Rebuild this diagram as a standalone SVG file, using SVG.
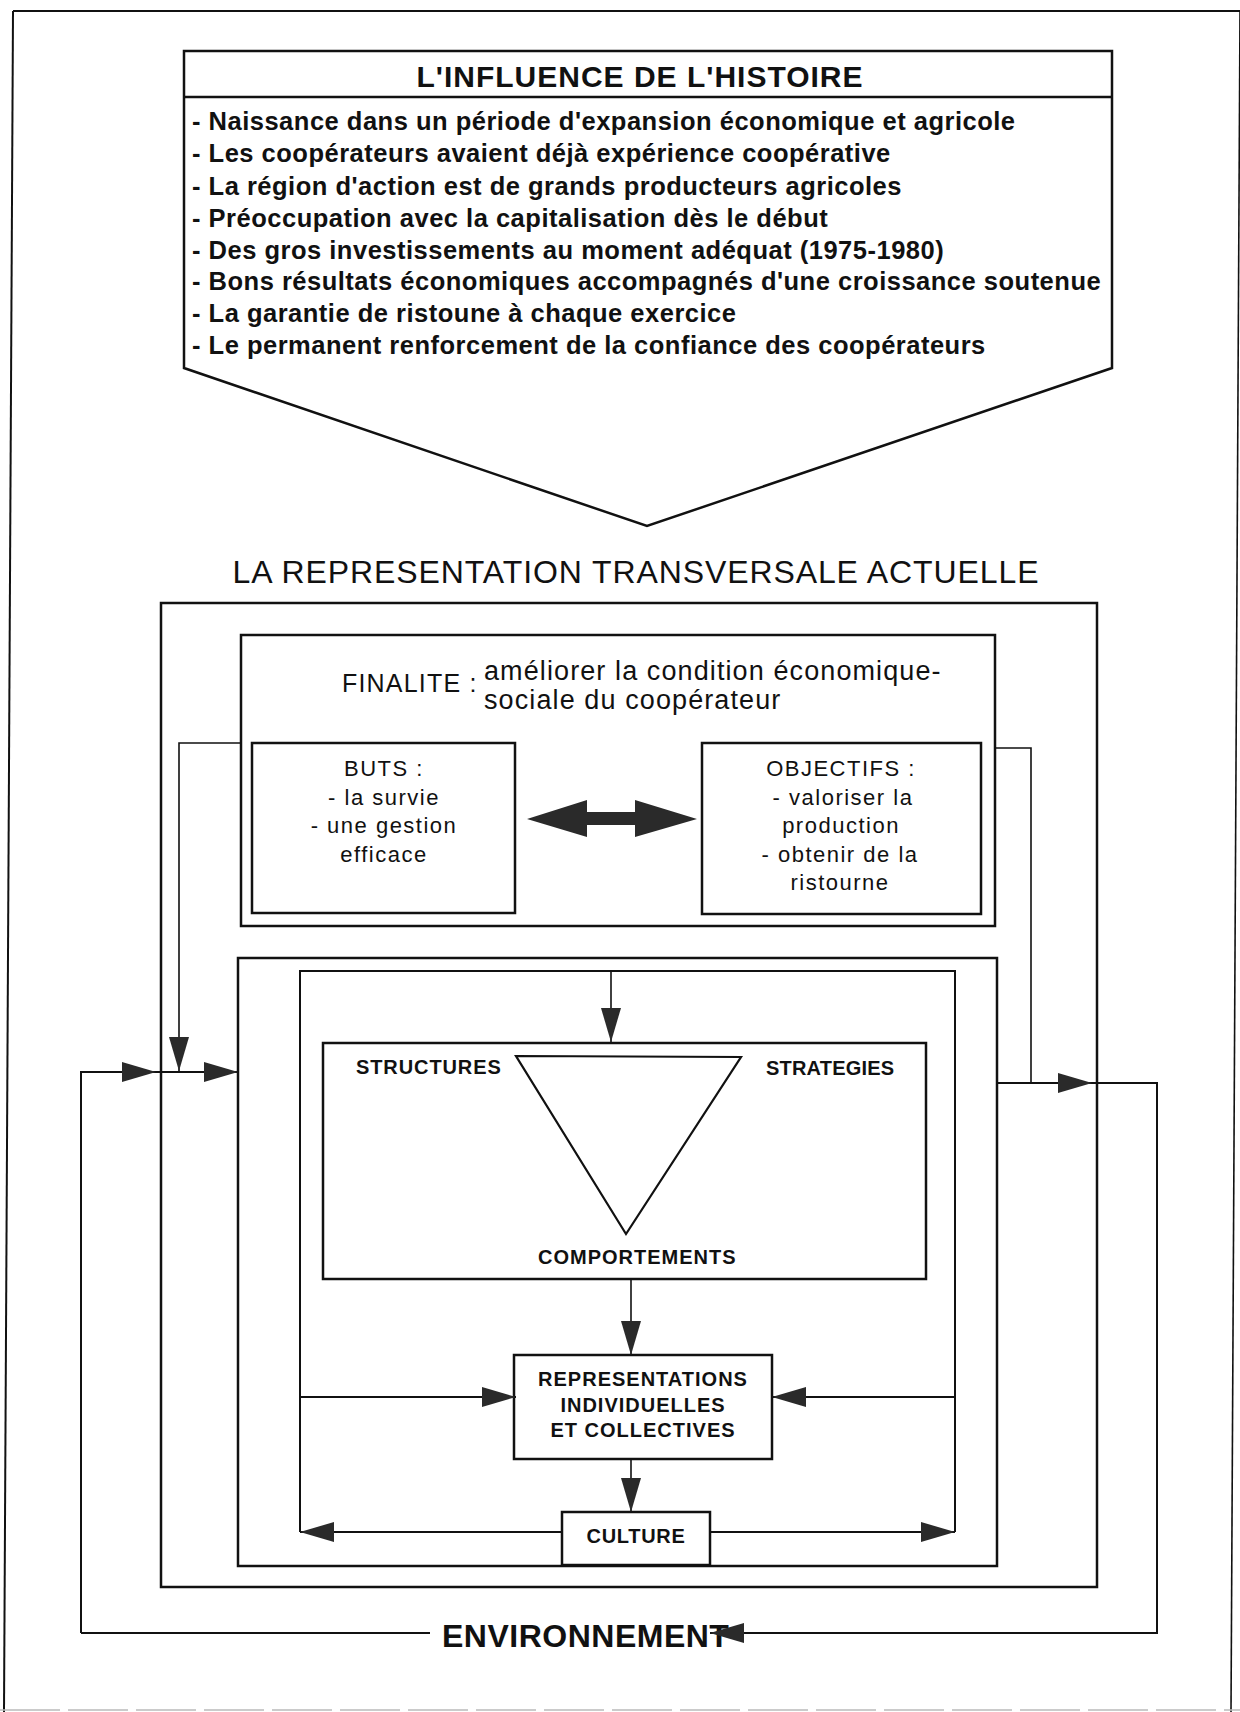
<svg xmlns="http://www.w3.org/2000/svg" width="1240" height="1712" viewBox="0 0 1240 1712">
<style>
.box{fill:none;stroke:#111;stroke-width:2.5}
.ln{fill:none;stroke:#111;stroke-width:2}
.thin{fill:none;stroke:#111;stroke-width:1.6}
.b{font-family:"Liberation Sans",Arial,sans-serif;font-weight:bold;fill:#111}
.r{font-family:"Liberation Sans",Arial,sans-serif;fill:#111}
.hist{font-size:25.5px;letter-spacing:0.5px}
.sm{font-size:20px}
.mid{font-size:22px;letter-spacing:1.5px}
</style>
<defs>
<marker id="ah" markerUnits="userSpaceOnUse" markerWidth="35" markerHeight="22" refX="34" refY="11" orient="auto">
<path d="M0,1 L34,11 L0,21 z" fill="#2a2a2a"/>
</marker>
</defs>
<rect width="1240" height="1712" fill="#fff"/>
<g id="page-frame">
<path d="M13,11 L1240,11" class="ln"/>
<path d="M13,11 L4,1712" class="ln"/>
<path d="M1240,11 L1231,1712" class="thin"/>
<path d="M0,1710 L1240,1710" fill="none" stroke="#bbb" stroke-width="1.5" stroke-dasharray="60 8"/>
</g>
<g id="histoire">
<path d="M184,51 L1112,51 L1112,368 L647,526 L184,368 Z" class="box"/>
<path d="M184,97 L1112,97" class="box"/>
<text x="640" y="87" text-anchor="middle" class="b" font-size="30" letter-spacing="1">L'INFLUENCE DE L'HISTOIRE</text>
<text class="b hist" x="192" y="130">- Naissance dans un période d'expansion économique et agricole</text>
<text class="b hist" x="192" y="162">- Les coopérateurs avaient déjà expérience coopérative</text>
<text class="b hist" x="192" y="194.5">- La région d'action est de grands producteurs agricoles</text>
<text class="b hist" x="192" y="226.5">- Préoccupation avec la capitalisation dès le début</text>
<text class="b hist" x="192" y="258.5">- Des gros investissements au moment adéquat (1975-1980)</text>
<text class="b hist" x="192" y="290">- Bons résultats économiques accompagnés d'une croissance soutenue</text>
<text class="b hist" x="192" y="322">- La garantie de ristoune à chaque exercice</text>
<text class="b hist" x="192" y="354">- Le permanent renforcement de la confiance des coopérateurs</text>
</g>
<text id="titre-representation" x="636" y="583" text-anchor="middle" class="r" font-size="32" letter-spacing="0.9">LA REPRESENTATION TRANSVERSALE ACTUELLE</text>
<g id="systeme">
<rect x="161" y="603" width="936" height="984" class="box"/>
</g>
<g id="finalite">
<rect x="241" y="635" width="754" height="291" class="box"/>
<text x="342" y="692" class="r" font-size="25" letter-spacing="1.2">FINALITE :</text>
<text x="484" y="680" class="r" font-size="27" letter-spacing="1.1">améliorer la condition économique-</text>
<text x="484" y="709" class="r" font-size="27" letter-spacing="1.1">sociale du coopérateur</text>
</g>
<g id="buts">
<rect x="252" y="743" width="263" height="170" class="box"/>
<text class="r mid" text-anchor="middle" x="384" y="776">BUTS :</text>
<text class="r mid" text-anchor="middle" x="384" y="805">- la survie</text>
<text class="r mid" text-anchor="middle" x="384" y="833">- une gestion</text>
<text class="r mid" text-anchor="middle" x="384" y="862">efficace</text>
</g>
<g id="objectifs">
<rect x="702" y="743" width="279" height="171" class="box"/>
<text class="r mid" text-anchor="middle" x="841" y="776">OBJECTIFS :</text>
<text class="r mid" text-anchor="middle" x="843" y="805">- valoriser la</text>
<text class="r mid" text-anchor="middle" x="841" y="833">production</text>
<text class="r mid" text-anchor="middle" x="840" y="862">- obtenir de la</text>
<text class="r mid" text-anchor="middle" x="840" y="890">ristourne</text>
</g>
<g id="organisation">
<rect x="238" y="958" width="759" height="608" class="box"/>
</g>
<g id="boucle-interne">
<path d="M300,1532 L300,971 L955,971 L955,1532" class="ln"/>
</g>
<g id="structures">
<rect x="323" y="1043" width="603" height="236" class="box"/>
<path d="M516,1056 L741,1057 L626,1234 Z" fill="none" stroke="#111" stroke-width="2.2"/>
<text class="b sm" x="356" y="1074" letter-spacing="0.9">STRUCTURES</text>
<text class="b sm" x="766" y="1075" letter-spacing="0.2">STRATEGIES</text>
<text class="b sm" x="538" y="1264" letter-spacing="1">COMPORTEMENTS</text>
</g>
<g id="representations">
<rect x="514" y="1355" width="258" height="104" class="box"/>
<text class="b sm" text-anchor="middle" x="643" y="1386" letter-spacing="1">REPRESENTATIONS</text>
<text class="b sm" text-anchor="middle" x="643" y="1412" letter-spacing="1">INDIVIDUELLES</text>
<text class="b sm" text-anchor="middle" x="643" y="1437" letter-spacing="1">ET COLLECTIVES</text>
</g>
<g id="culture">
<rect x="562" y="1512" width="148" height="53" class="box"/>
<text class="b sm" text-anchor="middle" x="636" y="1543" letter-spacing="0.7">CULTURE</text>
</g>
<g id="environnement">
<text class="b" x="442" y="1647" font-size="32" letter-spacing="0.5">ENVIRONNEMENT</text>
</g>
<g id="connectors">
<polygon points="527,819 587,800 587,812 635,812 635,800 697,819 635,837 635,825 587,825 587,837" fill="#2a2a2a"/>
<path d="M241,743 L179,743 L179,1071" class="thin" marker-end="url(#ah)"/>
<path d="M81,1633 L81,1072 L156,1072" class="ln" marker-end="url(#ah)"/>
<path d="M156,1072 L238,1072" class="ln" marker-end="url(#ah)"/>
<path d="M995,748 L1031,748 L1031,1083" class="thin"/>
<path d="M997,1083 L1092,1083" class="ln" marker-end="url(#ah)"/>
<path d="M1092,1083 L1157,1083 L1157,1633 L710,1633" class="ln" marker-end="url(#ah)"/>
<path d="M81,1633 L430,1633" class="ln"/>
<path d="M611,971 L611,1042" class="thin" marker-end="url(#ah)"/>
<path d="M631,1279 L631,1355" class="thin" marker-end="url(#ah)"/>
<path d="M631,1459 L631,1512" class="thin" marker-end="url(#ah)"/>
<path d="M300,1397 L516,1397" class="ln" marker-end="url(#ah)"/>
<path d="M955,1397 L772,1397" class="ln" marker-end="url(#ah)"/>
<path d="M562,1532 L300,1532" class="ln" marker-end="url(#ah)"/>
<path d="M710,1532 L955,1532" class="ln" marker-end="url(#ah)"/>
</g>
</svg>
